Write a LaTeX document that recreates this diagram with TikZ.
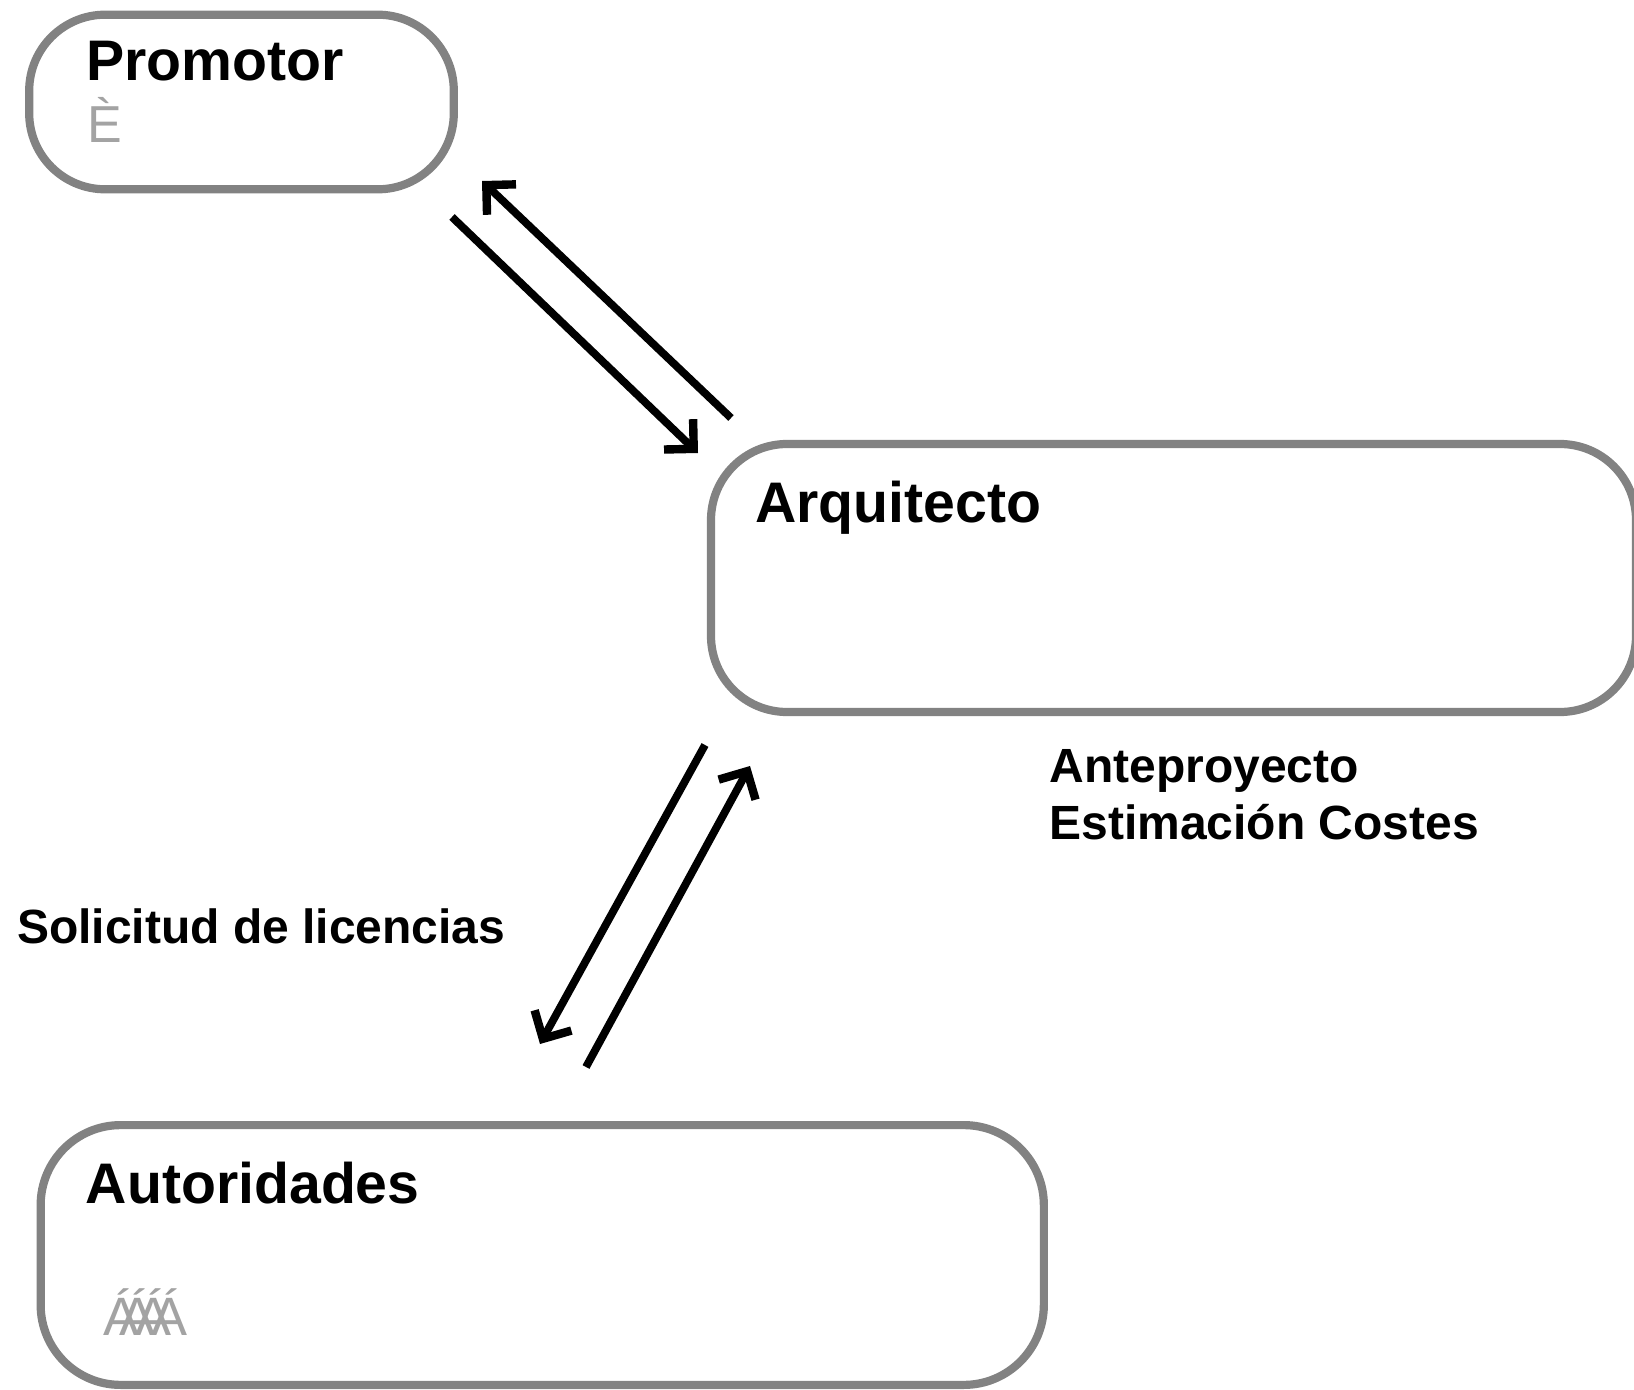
\documentclass[tikz,border=0pt]{standalone}
\usepackage{fontspec}
\setmainfont{Liberation Sans}
\usetikzlibrary{arrows.meta}
\definecolor{boxgray}{HTML}{828282}
\definecolor{glyphgray}{HTML}{A3A3A3}
\tikzset{
  actor/.style={draw=boxgray, line width=4.1pt, rounded corners=#1, inner sep=0pt},
  title/.style={anchor=base west, inner sep=0pt, font=\bfseries\fontsize{28.6}{33}\selectfont},
  label/.style={anchor=base west, inner sep=0pt, font=\bfseries\fontsize{24}{28}\selectfont, align=left},
  glyph/.style={anchor=base west, inner sep=0pt, text=glyphgray, font=\fontsize{26}{30}\selectfont},
  flow/.style={line width=3.9pt, -{Straight Barb[length=10.5pt, width=21pt, line width=4.2pt, line cap=butt, line join=miter]}}
}
\begin{document}
\begin{tikzpicture}[x=0.5pt, y=-0.5pt]
\useasboundingbox (0,0) rectangle (1634,1390);
% boxes
\node[actor=38pt, minimum width=212.3pt, minimum height=87.3pt] (promotor) at (241.5,102) {};
\node[actor=38pt, minimum width=462.5pt, minimum height=134pt] (arquitecto) at (1173.5,578) {};
\node[actor=40pt, minimum width=501.6pt, minimum height=129.9pt] (autoridades) at (542.25,1255) {};
% titles
\node[title] (tprom) at (86,81) {Promotor};
\node[glyph] (gprom) at (87,143) {È};
\node[title] (tarq) at (755,523) {Arquitecto};
\node[title] (taut) at (85.5,1203) {Autoridades};
\node[glyph, font=\fontsize{27}{31}\selectfont] (gaut) at (103,1335) {Á\kern-10ptÁ\kern-10ptÁ\kern-10ptÁ};
% labels
\node[label] (ante) at (1049,782) {Anteproyecto};
\node[label] (estim) at (1049,839) {Estimación Costes};
\node[label] (solic) at (16.7,943) {Solicitud de licencias};
% arrow end points
\coordinate (a1s) at (452,217);
\coordinate (a1e) at (698,453);
\coordinate (a2s) at (731,418);
\coordinate (a2e) at (482,181);
\coordinate (a3s) at (705,745);
\coordinate (a3e) at (540,1044);
\coordinate (a4s) at (586,1067);
\coordinate (a4e) at (750,766);
\draw[flow] (a1s) -- (a1e);
\draw[flow] (a2s) -- (a2e);
\draw[flow] (a3s) -- (a3e);
\draw[flow] (a4s) -- (a4e);
\end{tikzpicture}
\end{document}
